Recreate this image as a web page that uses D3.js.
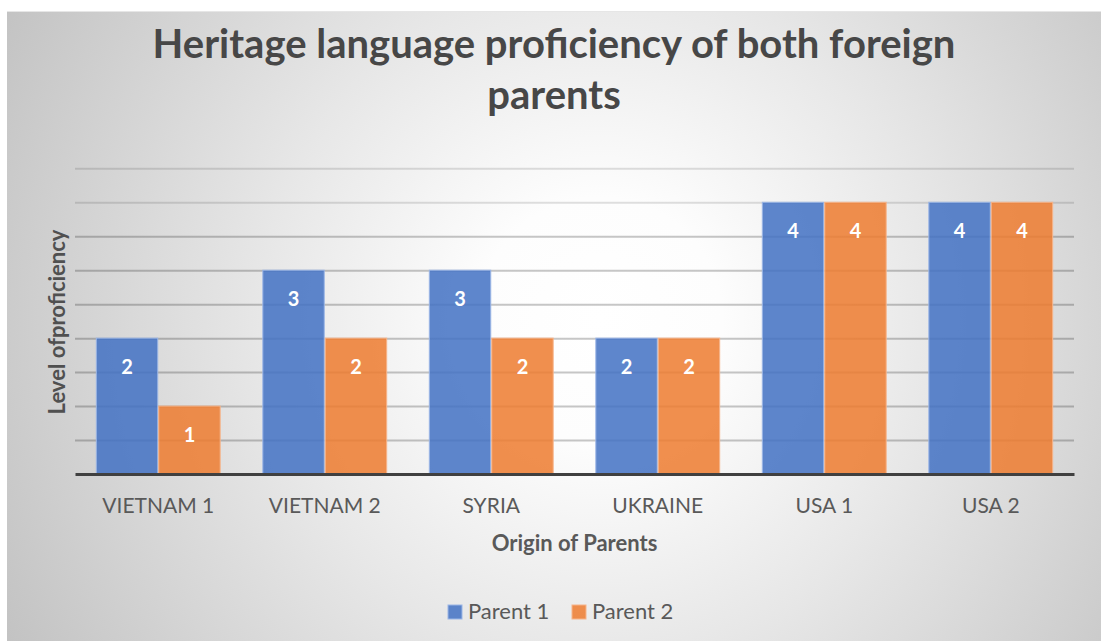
<!DOCTYPE html>
<html>
<head>
<meta charset="utf-8">
<script src="https://cdn.jsdelivr.net/npm/d3@7"></script>
<style>
  html, body { margin: 0; padding: 0; background: #ffffff; }
  svg { display: block; }
  text { font-family: Lato, "Open Sans", sans-serif; }
</style>
</head>
<body>
<svg id="chart" width="1101" height="641"></svg>
<script>
const titleLines = ["Heritage language proficiency of both foreign", "parents"];
const categories = ["VIETNAM 1", "VIETNAM 2", "SYRIA", "UKRAINE", "USA 1", "USA 2"];
const seriesNames = ["Parent 1", "Parent 2"];
const parent1 = [2, 3, 3, 2, 4, 4];
const parent2 = [1, 2, 2, 2, 4, 4];
const yMax = 4.5;
const yStep = 0.5;
const xAxisTitle = "Origin of Parents";
const yAxisTitle = "Level ofproficiency";

const colors = { "Parent 1": "#4472C4", "Parent 2": "#ED7D31" };
const strokes = { "Parent 1": "#9bb6e6", "Parent 2": "#f6b48a" };

const svg = d3.select("#chart");
const W = 1101, H = 641;

// background
const defs = svg.append("defs");
const grad = defs.append("radialGradient")
  .attr("id", "bg").attr("gradientUnits", "userSpaceOnUse")
  .attr("cx", 600).attr("cy", 320).attr("r", 680);
grad.append("stop").attr("offset", 0).attr("stop-color", "#ffffff");
grad.append("stop").attr("offset", 0.18).attr("stop-color", "#fdfdfd");
grad.append("stop").attr("offset", 0.5).attr("stop-color", "#e7e7e7");
grad.append("stop").attr("offset", 1).attr("stop-color", "#c2c2c2");

svg.append("rect").attr("x", 7).attr("y", 11).attr("width", W - 7).attr("height", H - 11)
  .attr("fill", "url(#bg)");
svg.append("line").attr("x1", 7).attr("x2", W).attr("y1", 11.5).attr("y2", 11.5)
  .attr("stroke", "#e6e6e6").attr("stroke-width", 1);

// scales
const x0 = d3.scaleBand().domain(categories).range([75, 1074]).paddingInner(0).paddingOuter(0);
const groupW = x0.bandwidth() * 0.75;
const x1 = d3.scaleBand().domain(seriesNames).range([0, groupW]).padding(0);
const y = d3.scaleLinear().domain([0, yMax]).range([474, 168.3]);
const tickVals = d3.range(0, yMax + yStep / 2, yStep);

// gridlines
const grid = svg.append("g").attr("transform", "translate(75,0)")
  .call(d3.axisLeft(y).tickValues(tickVals.filter(v => v > 0)).tickSize(-(1074 - 75)).tickFormat(""));
grid.select(".domain").remove();
grid.selectAll(".tick line").attr("stroke", "#000").attr("stroke-opacity", d => d >= 4 ? 0.12 : 0.22).attr("stroke-width", 2);

// bars
const rows = categories.map((c, i) => ({ cat: c, vals: [
  { s: "Parent 1", v: parent1[i] }, { s: "Parent 2", v: parent2[i] }] }));

const groups = svg.append("g").selectAll("g").data(rows).join("g")
  .attr("transform", d => `translate(${x0(d.cat) + (x0.bandwidth() - groupW) / 2},0)`);

groups.selectAll("rect").data(d => d.vals).join("rect")
  .attr("x", d => x1(d.s) + 0.5)
  .attr("y", d => y(d.v))
  .attr("width", x1.bandwidth() - 1)
  .attr("height", d => y(0) - y(d.v))
  .attr("fill", d => colors[d.s])
  .attr("fill-opacity", 0.86)
  .attr("stroke", d => strokes[d.s])
  .attr("stroke-width", 1);

groups.selectAll("text").data(d => d.vals).join("text")
  .attr("x", d => x1(d.s) + x1.bandwidth() / 2)
  .attr("y", d => y(d.v) + 36)
  .attr("text-anchor", "middle")
  .attr("fill", "#ffffff")
  .attr("font-weight", "bold")
  .attr("font-size", 20)
  .text(d => d.v);

// x axis
const xAxis = svg.append("g").attr("transform", "translate(0,474)")
  .call(d3.axisBottom(x0).tickSize(0));
xAxis.select(".domain").attr("stroke", "#404040").attr("stroke-width", 3);
xAxis.selectAll(".tick text")
  .attr("y", 39).attr("dy", 0)
  .attr("fill", "#595959")
  .attr("font-size", 21)
  .style("font-family", "Lato, 'Open Sans', sans-serif");

// axis titles
svg.append("text").attr("x", (75 + 1074) / 2).attr("y", 551)
  .attr("text-anchor", "middle").attr("font-size", 22).attr("font-weight", "bold")
  .attr("fill", "#595959").text(xAxisTitle);

svg.append("text").attr("transform", "translate(65,322) rotate(-90)")
  .attr("text-anchor", "middle").attr("font-size", 22).attr("font-weight", "bold")
  .attr("fill", "#505050").text(yAxisTitle);

// title
svg.selectAll(".title").data(titleLines).join("text").attr("class", "title")
  .attr("x", 554).attr("y", (d, i) => 58 + i * 51)
  .attr("text-anchor", "middle").attr("font-size", 40).attr("font-weight", "bold")
  .attr("fill", "#474747").text(d => d);

// legend
const legend = svg.append("g");
const legendX = [448, 572];
seriesNames.forEach((s, i) => {
  legend.append("rect").attr("x", legendX[i]).attr("y", 605).attr("width", 14).attr("height", 14)
    .attr("fill", colors[s]).attr("fill-opacity", 0.86).attr("stroke", strokes[s]).attr("stroke-width", 1);
  legend.append("text").attr("x", legendX[i] + 20).attr("y", 619)
    .attr("font-size", 22).attr("fill", "#595959").text(s);
});
</script>
</body>
</html>
